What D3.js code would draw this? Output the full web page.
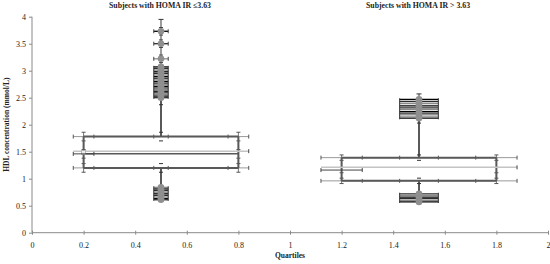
<!DOCTYPE html>
<html lang="en">
<head>
	<meta charset="UTF-8">
	<title>HDL quartiles</title>
	<script src="https://cdn.jsdelivr.net/npm/d3@7"></script>
	<style>
		body { margin: 0; background: #fff; }
		text { font-family: "Liberation Serif", "DejaVu Serif", serif; fill: #222; }
	</style>
</head>
<body>
<script type="text/javascript">
	// data, one entry per panel
	var xTicks = [0, 0.2, 0.4, 0.6, 0.8, 1, 1.2, 1.4, 1.6, 1.8, 2];
	var yTicks = [0, 0.5, 1, 1.5, 2, 2.5, 3, 3.5, 4];
	var titles = ['Subjects with HOMA IR \u22643.63', 'Subjects with HOMA IR > 3.63'];
	var boxLeft = [0.2, 1.2];
	var boxRight = [0.8, 1.8];
	var centers = [0.5, 1.5];
	var q1 = [1.20, 0.96];
	var q3 = [1.78, 1.39];
	var medianLight = [1.51, 1.21];
	var medianDark = [1.46, 1.16];
	var medianDarkFull = [true, false];
	var whiskerLow = [0.85, 0.73];
	var whiskerHigh = [2.45, 2.08];
	var boxErrX = [0.04, 0.08];
	var boxErrY = [0.08, 0.05];
	var outErrX = [0.028, 0.075];
	var topErrY = [0.22, 0.1];
	var outliersHigh = [
		[3.73, 3.50, 3.22, 3.07, 3.04, 3.01, 2.98, 2.95, 2.92, 2.89, 2.86, 2.83, 2.80, 2.77, 2.74, 2.71, 2.68, 2.65, 2.62, 2.59, 2.56, 2.53, 2.50],
		[2.47, 2.43, 2.39, 2.35, 2.31, 2.28, 2.24, 2.20, 2.16, 2.12]
	];
	var outliersLow = [
		[0.84, 0.81, 0.78, 0.75, 0.72, 0.69, 0.66, 0.63, 0.61],
		[0.72, 0.69, 0.66, 0.63, 0.60, 0.57]
	];

	var W = 550, H = 264;
	var x = d3.scaleLinear().domain([0, 2]).range([32, 548]);
	var y = d3.scaleLinear().domain([0, 4]).range([232.7, 16.7]);

	var svg = d3.select('body').append('svg')
		.attr('width', W).attr('height', H);

	var dark = '#595959', light = '#c4c4c4', marker = '#8f8f8f';

	// axes
	var yAxis = svg.append('g')
		.attr('transform', 'translate(' + x(0) + ',0)')
		.call(d3.axisLeft(y).tickValues(yTicks).tickSize(3).tickPadding(3).tickFormat(d3.format('')));
	var xAxis = svg.append('g')
		.attr('transform', 'translate(0,' + y(0) + ')')
		.call(d3.axisBottom(x).tickValues(xTicks).tickSize(3).tickPadding(7).tickFormat(d3.format('')));
	xAxis.selectAll('.tick line').attr('y1', -2).attr('y2', 2);
	[yAxis, xAxis].forEach(function (a) {
		a.select('.domain').attr('stroke', '#8a8a8a');
		a.selectAll('.tick line').attr('stroke', '#8a8a8a');
		a.selectAll('text').style('font-size', '8px').attr('fill', '#333');
	});
	yAxis.select('.domain').attr('d', 'M0,' + y(4) + 'V' + y(0));
	xAxis.select('.domain').attr('d', 'M' + x(0) + ',0H' + x(2));

	svg.append('text')
		.attr('transform', 'translate(9,' + y(2) + ') rotate(-90)')
		.attr('text-anchor', 'middle')
		.style('font-size', '7.5px').style('font-weight', 'bold')
		.text('HDL concentration (mmol/L)');
	svg.append('text')
		.attr('x', x(1)).attr('y', 258)
		.attr('text-anchor', 'middle')
		.style('font-size', '7.5px').style('font-weight', 'bold')
		.text('Quartiles');

	svg.selectAll('.title')
		.data(titles)
		.enter().append('text')
		.attr('class', 'title')
		.attr('x', function (d, i) { return x(centers[i]) - 1; })
		.attr('y', 8)
		.attr('text-anchor', 'middle')
		.style('font-size', '7.8px').style('font-weight', 'bold')
		.text(function (d) { return d; });

	function hLine(g, x0, x1, yv, color, w) {
		g.append('line').attr('x1', x(x0)).attr('x2', x(x1))
			.attr('y1', y(yv)).attr('y2', y(yv))
			.attr('stroke', color).attr('stroke-width', w);
	}
	function vLine(g, xv, y0, y1, color, w) {
		g.append('line').attr('x1', x(xv)).attr('x2', x(xv))
			.attr('y1', y(y0)).attr('y2', y(y1))
			.attr('stroke', color).attr('stroke-width', w);
	}
	function hCap(g, xv, yv, half, color) {
		g.append('line').attr('x1', x(xv)).attr('x2', x(xv))
			.attr('y1', y(yv) - half).attr('y2', y(yv) + half)
			.attr('stroke', color).attr('stroke-width', 1);
	}
	function vCap(g, xv, yv, half, color) {
		g.append('line').attr('x1', x(xv) - half).attr('x2', x(xv) + half)
			.attr('y1', y(yv)).attr('y2', y(yv))
			.attr('stroke', color).attr('stroke-width', 1);
	}
	// run of values (sorted desc) packed closer than gap, counted from the end
	function denseRange(vals, gap) {
		var s = vals.slice().sort(d3.ascending), k = 0;
		while (k < s.length - 1 && s[k + 1] - s[k] < gap) k++;
		return [s[0], s[k]];
	}

	centers.forEach(function (c, i) {
		var g = svg.append('g');
		var lo = boxLeft[i], hi = boxRight[i], ex = boxErrX[i], ey = boxErrY[i], ox = outErrX[i];
		var highs = outliersHigh[i], lows = outliersLow[i];
		var top = d3.max(highs), bot = d3.min(lows);

		// whisker spine through the outliers
		vLine(g, c, q3[i], top + topErrY[i], dark, 1.2);
		vLine(g, c, q1[i], bot, dark, 1.2);
		vLine(g, c, q3[i], whiskerHigh[i], dark, 2);
		vLine(g, c, q1[i], whiskerLow[i], dark, 2);
		vCap(g, c, top + topErrY[i], 2.5, '#333');
		[q3[i], q1[i], whiskerHigh[i]].forEach(function (v) {
			vCap(g, c, v + ey, 2, '#333');
			vCap(g, c, v - ey, 2, '#333');
		});

		// box corner error bars (thin, light)
		[q1[i], q3[i]].forEach(function (v) {
			hLine(g, lo - ex, hi + ex, v, '#9a9a9a', 1);
			[lo - ex, lo + ex, hi - ex, hi + ex, c - ox, c + ox].forEach(function (p) { hCap(g, p, v, 2, '#555'); });
		});
		[lo, hi].forEach(function (p) {
			vLine(g, p, q1[i] - ey, q3[i] + ey, '#777', 1);
			[q1[i] - ey, q1[i] + ey, q3[i] - ey, q3[i] + ey, medianDark[i] + ey, medianDark[i] - ey].forEach(function (v) { vCap(g, p, v, 2, '#555'); });
		});

		// box body
		hLine(g, lo, hi, q3[i], dark, 2);
		hLine(g, lo, hi, q1[i], dark, 2);
		vLine(g, lo, q1[i], q3[i], dark, 2);
		vLine(g, hi, q1[i], q3[i], dark, 2);
		hLine(g, lo - ex, hi + ex, medianLight[i], light, 1.5);
		if (medianDarkFull[i]) {
			hLine(g, lo, hi, medianDark[i], dark, 1.5);
			g.append('rect')
				.attr('x', x(lo) - 2).attr('y', y((medianLight[i] + medianDark[i]) / 2) - 2)
				.attr('width', 4).attr('height', 4)
				.attr('fill', '#eee').attr('stroke', '#aaa').attr('stroke-width', 0.8);
		}
		hLine(g, lo - ex, lo + ex, medianDark[i], '#444', 1);
		hCap(g, lo - ex, medianDark[i], 2, '#444');
		hCap(g, lo + ex, medianDark[i], 2, '#444');
		hCap(g, hi + ex, medianLight[i], 2, '#444');

		// outliers: error bar per point plus grey dot
		var all = highs.concat(lows);
		all.forEach(function (v, k) {
			var col = k % 3 === 2 ? '#8a8a8a' : (k % 3 === 1 ? '#2b2b2b' : '#000');
			hLine(g, c - ox, c + ox, v, col, 1.3);
		});
		[denseRange(highs, 0.1), denseRange(lows, 0.1)].forEach(function (r) {
			vLine(g, c - ox, r[0] - 0.02, r[1] + 0.02, '#333', 1);
			vLine(g, c + ox, r[0] - 0.02, r[1] + 0.02, '#333', 1);
		});
		var dense = denseRange(highs, 0.1);
		highs.filter(function (v) { return v > dense[1]; }).forEach(function (v) {
			hCap(g, c - ox, v, 2, '#444');
			hCap(g, c + ox, v, 2, '#444');
			vCap(g, c, v + 0.07, 2, '#444');
			vCap(g, c, v - 0.07, 2, '#444');
		});
		g.selectAll('.dot')
			.data(all)
			.enter().append('circle')
			.attr('class', 'dot')
			.attr('cx', x(c))
			.attr('cy', function (d) { return y(d); })
			.attr('r', 3.3)
			.attr('fill', marker);
	});
</script>
</body>
</html>
